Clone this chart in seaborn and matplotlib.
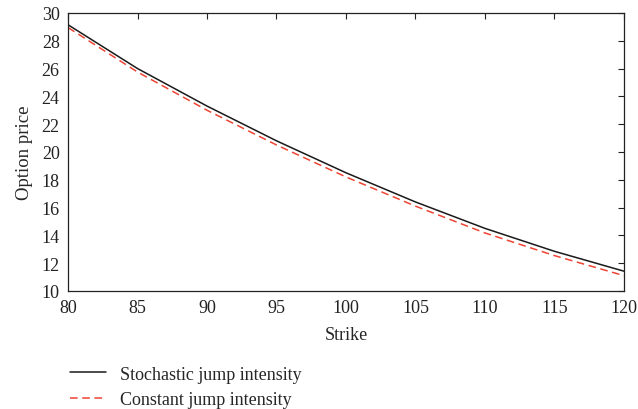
import pandas as pd
import numpy as np
import seaborn as sns
import matplotlib.pyplot as plt

strike = [80, 85, 90, 95, 100, 105, 110, 115, 120]
stochastic = [29.15, 26.0, 23.3, 20.8, 18.5, 16.4, 14.5, 12.85, 11.42]
constant = [28.95, 25.75, 23.0, 20.5, 18.2, 16.1, 14.17, 12.54, 11.1]
labels = ['Stochastic jump intensity', 'Constant jump intensity']

df = pd.DataFrame({
    'strike': strike * 2,
    'price': stochastic + constant,
    'model': [labels[0]] * len(strike) + [labels[1]] * len(strike),
})

sns.set_style('white')
plt.rcParams['font.family'] = ['Liberation Serif', 'DejaVu Serif']
plt.rcParams['font.size'] = 13

fig = plt.figure(figsize=(6.38, 4.10), dpi=100)
ax = fig.add_axes([0.1066, 0.288, 0.8714, 0.678])

sns.lineplot(data=df, x='strike', y='price', hue='model', style='model',
             palette=['#1a1a1a', '#ee4433'], dashes=[(None, None), (5, 3)],
             linewidth=1.1, ax=ax)

ax.set_xlim(80, 120)
ax.set_ylim(10, 30)
ax.set_xticks(np.arange(80, 121, 5))
ax.set_yticks(np.arange(10, 31, 2))
ax.tick_params(direction='in', top=True, right=True, length=4, width=0.8,
               labelsize=13, colors='#222222', pad=6)
for s in ax.spines.values():
    s.set_color('#222222')
    s.set_linewidth(0.9)
ax.set_xlabel('Strike', fontsize=13, labelpad=7)
ax.set_ylabel('Option price', fontsize=13.5, labelpad=6)

h, l = ax.get_legend_handles_labels()
ax.get_legend().remove()
fig.legend(h, l, loc='upper left', bbox_to_anchor=(0.085, 0.145), frameon=False,
           fontsize=13, handlelength=1.95, labelspacing=0.45, handletextpad=0.8)

fig.savefig('out.png', dpi=100)
